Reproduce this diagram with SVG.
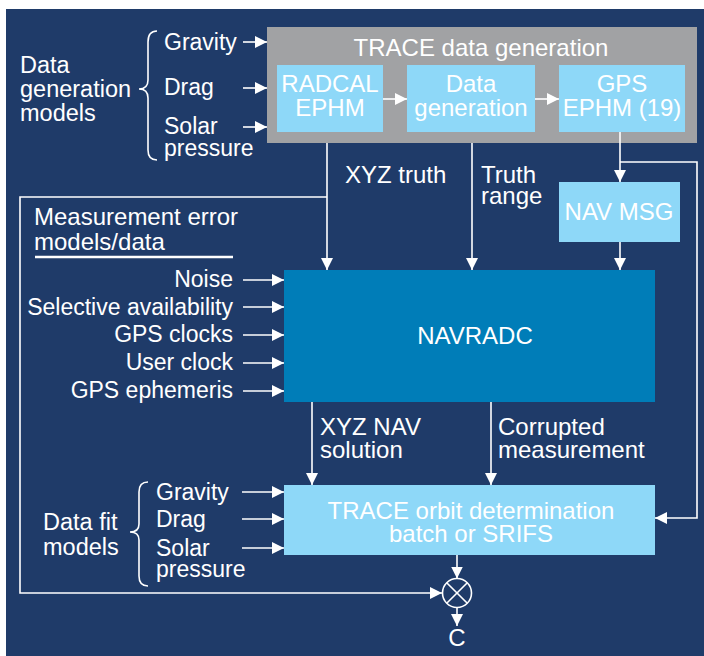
<svg xmlns="http://www.w3.org/2000/svg" width="704" height="656" viewBox="0 0 704 656">
<style>
text{font-family:"Liberation Sans",Arial,sans-serif;font-size:24px;fill:#ffffff}
.s{font-size:23px}
.t{font-size:23.5px}
.m{text-anchor:middle}
.r{text-anchor:end}
.ln{stroke:#ffffff;stroke-width:1.6;fill:none}
.lb{fill:#8ed8f8}
</style>
<defs>
<marker id="ah" markerUnits="userSpaceOnUse" markerWidth="12" markerHeight="12" refX="12" refY="6" orient="auto">
<path d="M0,0 L12,6 L0,12 z" fill="#ffffff"/>
</marker>
</defs>
<rect x="6" y="9" width="698" height="647" fill="#1f3b69"/>

<g id="data-generation-models">
<text class="t" x="20" y="73">Data</text>
<text class="t" x="20" y="97">generation</text>
<text class="t" x="20" y="121">models</text>
<path class="ln" d="M157,31 Q148,31 148,42 L148,80 Q148,89 139,89 Q148,89 148,98 L148,150 Q148,160 157,160"/>
<text class="s" x="164" y="50">Gravity</text>
<text class="s" x="164" y="95">Drag</text>
<text class="s" x="164" y="134">Solar</text>
<text class="s" x="164" y="156">pressure</text>
</g>

<g id="trace-data-generation">
<rect x="267" y="27" width="430" height="116" fill="#a1a2a4"/>
<text class="m" x="481" y="56" fill="#f4f4f4">TRACE data generation</text>
</g>
<g id="radcal-ephm">
<rect class="lb" x="277" y="65" width="106" height="67"/>
<text class="m" x="330" y="92">RADCAL</text>
<text class="m" x="330" y="116">EPHM</text>
</g>
<g id="data-generation">
<rect class="lb" x="407" y="65" width="128" height="67"/>
<text class="m" x="471" y="92">Data</text>
<text class="m" x="471" y="116">generation</text>
</g>
<g id="gps-ephm">
<rect class="lb" x="559" y="65" width="126" height="67"/>
<text class="m" x="622" y="92">GPS</text>
<text class="m" x="622" y="116">EPHM (19)</text>
</g>

<g id="nav-msg">
<rect class="lb" x="559" y="182" width="121" height="60"/>
<text class="m" x="619" y="220">NAV MSG</text>
</g>

<g id="measurement-error-models">
<text x="34" y="225">Measurement error</text>
<text x="34" y="250">models/data</text>
<line x1="35" y1="257" x2="233" y2="257" stroke="#ffffff" stroke-width="2.5"/>
<text class="r s" x="233" y="287">Noise</text>
<text class="r s" x="233" y="315">Selective availability</text>
<text class="r s" x="233" y="342">GPS clocks</text>
<text class="r s" x="233" y="370">User clock</text>
<text class="r s" x="233" y="398">GPS ephemeris</text>
</g>

<g id="navradc">
<rect x="284" y="270" width="371" height="132" fill="#007db8"/>
<text class="m" x="475" y="344">NAVRADC</text>
</g>

<g id="trace-orbit-determination">
<rect class="lb" x="284" y="485" width="371" height="70"/>
<text class="m" x="471" y="519">TRACE orbit determination</text>
<text class="m" x="471" y="542">batch or SRIFS</text>
</g>

<g id="data-fit-models">
<text class="t" x="43" y="530">Data fit</text>
<text class="t" x="43" y="555">models</text>
<path class="ln" d="M148,482 Q139,482 139,492 L139,524 Q139,532 130,532 Q139,532 139,540 L139,576 Q139,586 148,586"/>
<text class="s" x="156" y="500">Gravity</text>
<text class="s" x="156" y="527">Drag</text>
<text class="s" x="156" y="556">Solar</text>
<text class="s" x="156" y="577">pressure</text>
</g>

<g id="combiner">
<circle cx="457" cy="593" r="14.5" fill="none" stroke="#ffffff" stroke-width="1.6"/>
<path class="ln" d="M446.7,582.7 L467.3,603.3 M467.3,582.7 L446.7,603.3"/>
<text class="m" x="457" y="646" font-size="22">C</text>
</g>

<g id="connectors">
<path class="ln" marker-end="url(#ah)" d="M243,42 H267"/>
<path class="ln" marker-end="url(#ah)" d="M243,88 H267"/>
<path class="ln" marker-end="url(#ah)" d="M243,127 H267"/>
<path class="ln" marker-end="url(#ah)" d="M383,99 H407"/>
<path class="ln" marker-end="url(#ah)" d="M535,99 H559"/>
<path class="ln" marker-end="url(#ah)" d="M327,143 V270"/>
<path class="ln" marker-end="url(#ah)" d="M327,197 H20 V593 H442"/>
<text x="345" y="183">XYZ truth</text>
<path class="ln" marker-end="url(#ah)" d="M472,143 V270"/>
<text x="481" y="183">Truth</text>
<text x="481" y="204">range</text>
<path class="ln" marker-end="url(#ah)" d="M620,132 V182"/>
<path class="ln" marker-end="url(#ah)" d="M620,162 H697 V518 H655"/>
<path class="ln" marker-end="url(#ah)" d="M620,242 V270"/>
<path class="ln" marker-end="url(#ah)" d="M243,280 H284"/>
<path class="ln" marker-end="url(#ah)" d="M243,307 H284"/>
<path class="ln" marker-end="url(#ah)" d="M243,335 H284"/>
<path class="ln" marker-end="url(#ah)" d="M243,363 H284"/>
<path class="ln" marker-end="url(#ah)" d="M243,391 H284"/>
<path class="ln" marker-end="url(#ah)" d="M312,402 V485"/>
<text x="320" y="435">XYZ NAV</text>
<text x="320" y="458">solution</text>
<path class="ln" marker-end="url(#ah)" d="M491,402 V485"/>
<text x="498" y="435">Corrupted</text>
<text x="498" y="458">measurement</text>
<path class="ln" marker-end="url(#ah)" d="M242,492 H284"/>
<path class="ln" marker-end="url(#ah)" d="M242,519 H284"/>
<path class="ln" marker-end="url(#ah)" d="M242,548 H284"/>
<path class="ln" marker-end="url(#ah)" d="M457,555 V578.5"/>
<path class="ln" marker-end="url(#ah)" d="M457,607.5 V626"/>
</g>
</svg>
